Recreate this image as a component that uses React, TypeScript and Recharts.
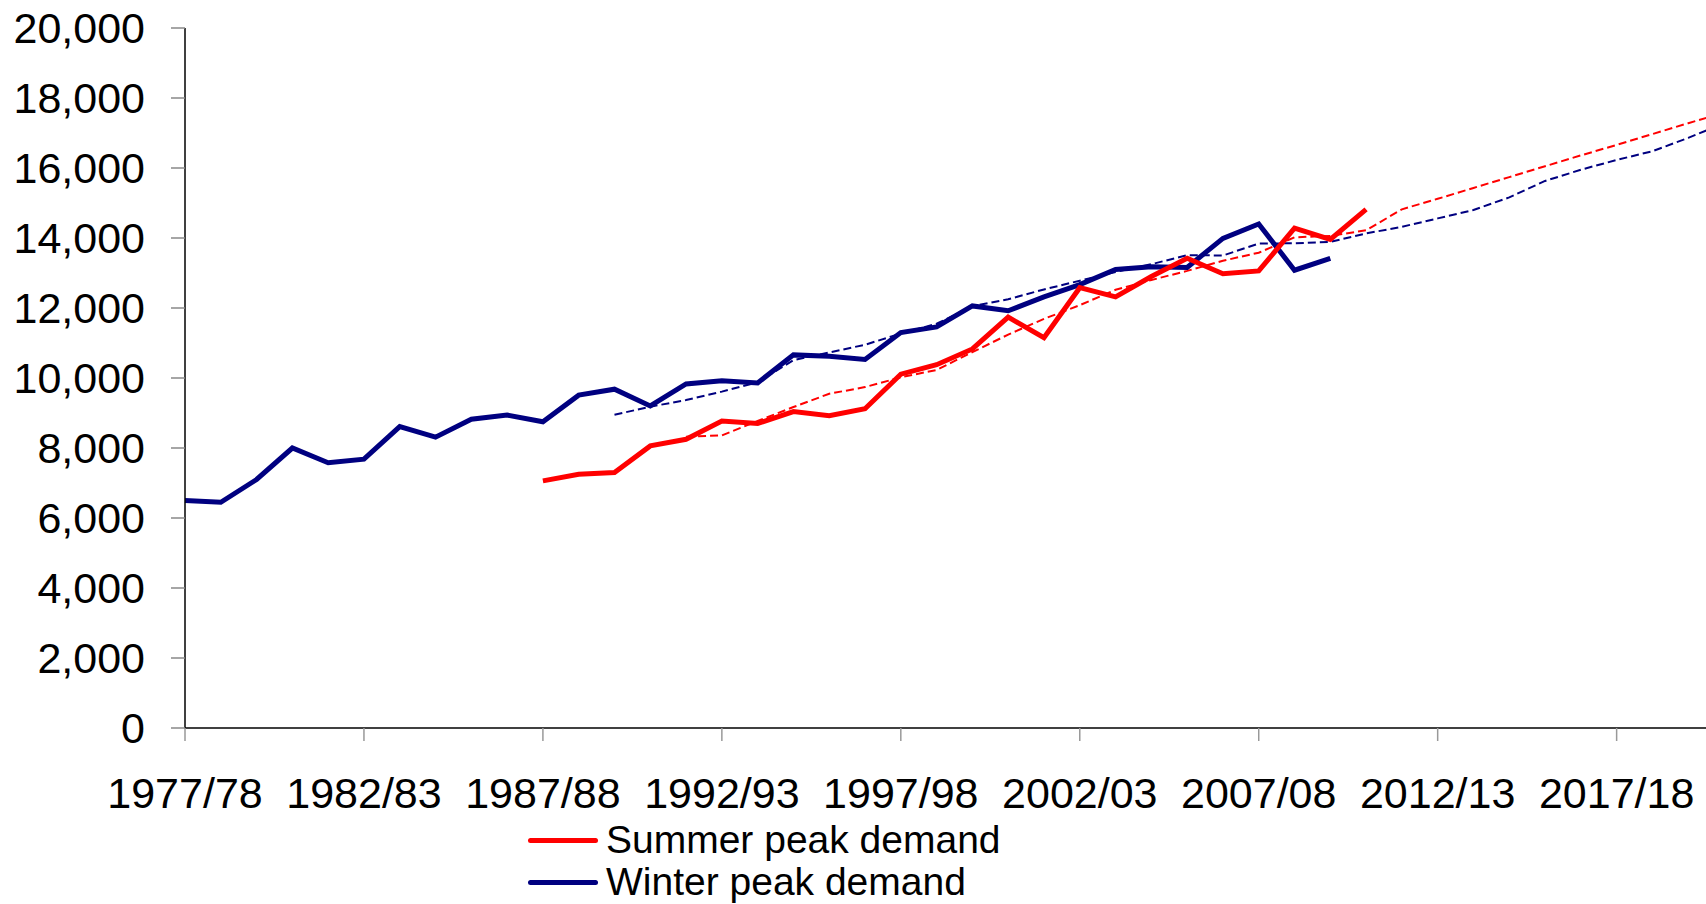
import { LineChart, Line, XAxis, YAxis, Legend } from 'recharts';

// financial years on the category axis
const years = [
  '1977/78', '1978/79', '1979/80', '1980/81', '1981/82', '1982/83', '1983/84', '1984/85',
  '1985/86', '1986/87', '1987/88', '1988/89', '1989/90', '1990/91', '1991/92', '1992/93',
  '1993/94', '1994/95', '1995/96', '1996/97', '1997/98', '1998/99', '1999/00', '2000/01',
  '2001/02', '2002/03', '2003/04', '2004/05', '2005/06', '2006/07', '2007/08', '2008/09',
  '2009/10', '2010/11', '2011/12', '2012/13', '2013/14', '2014/15', '2015/16', '2016/17',
  '2017/18', '2018/19', '2019/20', '2020/21',
];

// actual peaks (MW)
const winterPeak = [
  6500, 6450, 7100, 8000, 7580, 7680, 8610, 8310, 8820, 8940, 8750, 9510, 9680, 9200, 9830, 9920,
  9860, 10660, 10620, 10530, 11300, 11460, 12060, 11920, 12320, 12670, 13100, 13180, 13160, 13990, 14400, 13080,
  13420, null, null, null, null, null, null, null, null, null, null, null,
];
const summerPeak = [
  null, null, null, null, null, null, null, null, null, null, 7060, 7250, 7300, 8060, 8250, 8770,
  8700, 9040, 8920, 9120, 10110, 10380, 10830, 11740, 11150, 12580, 12320, 12900, 13420, 12980, 13060, 14280,
  13960, 14820, null, null, null, null, null, null, null, null, null, null,
];

// trend / forecast (dashed)
const winterTrend = [
  null, null, null, null, null, null, null, null, null, null, null, null, 8950, 9180, 9370, 9610,
  9880, 10510, 10730, 10950, 11270, 11550, 12050, 12250, 12530, 12780, 13030, 13250, 13510, 13500, 13840, 13850,
  13890, 14130, 14320, 14560, 14800, 15160, 15630, 15950, 16230, 16480, 16860, 17280,
];
const summerTrend = [
  null, null, null, null, null, null, null, null, null, null, null, null, null, null, 8320, 8360,
  8770, 9170, 9550, 9740, 10020, 10230, 10740, 11240, 11690, 12080, 12520, 12800, 13060, 13350, 13580, 14020,
  14060, 14220, 14820, 15120, 15430, 15740, 16050, 16360, 16660, 16970, 17280, 17580,
];

const yTicks = [0, 2000, 4000, 6000, 8000, 10000, 12000, 14000, 16000, 18000, 20000];

const legendItems = [
  { label: 'Summer peak demand', color: '#FF0000' },
  { label: 'Winter peak demand', color: '#000080' },
];

const chartData = years.map((year, i) => ({
  year,
  winterPeak: winterPeak[i],
  summerPeak: summerPeak[i],
  winterTrend: winterTrend[i],
  summerTrend: summerTrend[i],
}));

const FONT = '"Liberation Sans", Arial, sans-serif';

const withCommas = (v: number) => String(v).replace(/\B(?=(\d{3})+(?!\d))/g, ',');

const LegendBox = () => (
  <div style={{ fontFamily: FONT }}>
    {legendItems.map((item) => (
      <div key={item.label} style={{ display: 'flex', alignItems: 'center', height: 42 }}>
        <div style={{ width: 70, height: 5, borderRadius: 3, background: item.color, marginRight: 8 }} />
        <span style={{ fontSize: 39, lineHeight: '42px', color: '#000' }}>{item.label}</span>
      </div>
    ))}
  </div>
);

export default function App() {
  return (
    <div style={{ position: 'absolute', left: 0, top: 0, width: 1706, height: 904, overflow: 'hidden', background: '#fff' }}>
      <LineChart
        width={1724}
        height={904}
        data={chartData}
        margin={{ top: 28, right: 0, left: 0, bottom: 1 }}
      >
        <XAxis
          dataKey="year"
          interval={4}
          height={91}
          tickSize={13}
          tickMargin={36}
          axisLine={{ stroke: '#000', strokeWidth: 1.5 }}
          tickLine={{ stroke: '#999', strokeWidth: 1.5 }}
          tick={{ fill: '#000', fontSize: 43, fontFamily: FONT }}
        />
        <YAxis
          width={185}
          domain={[0, 20000]}
          ticks={yTicks}
          tickFormatter={withCommas}
          tickSize={14}
          tickMargin={26}
          axisLine={{ stroke: '#000', strokeWidth: 1.5 }}
          tickLine={{ stroke: '#888', strokeWidth: 1.5 }}
          tick={{ fill: '#000', fontSize: 43, fontFamily: FONT }}
        />
        <Legend
          verticalAlign="bottom"
          content={<LegendBox />}
          wrapperStyle={{ left: 528, top: 819, bottom: 'auto', width: 'auto' }}
        />
        <Line dataKey="summerTrend" stroke="#FF0000" strokeWidth={2} strokeDasharray="8 4" dot={false} isAnimationActive={false} legendType="none" />
        <Line dataKey="winterTrend" stroke="#000080" strokeWidth={2} strokeDasharray="8 4" dot={false} isAnimationActive={false} legendType="none" />
        <Line dataKey="winterPeak" stroke="#000080" strokeWidth={5} dot={false} isAnimationActive={false} />
        <Line dataKey="summerPeak" stroke="#FF0000" strokeWidth={5} dot={false} isAnimationActive={false} />
      </LineChart>
    </div>
  );
}
